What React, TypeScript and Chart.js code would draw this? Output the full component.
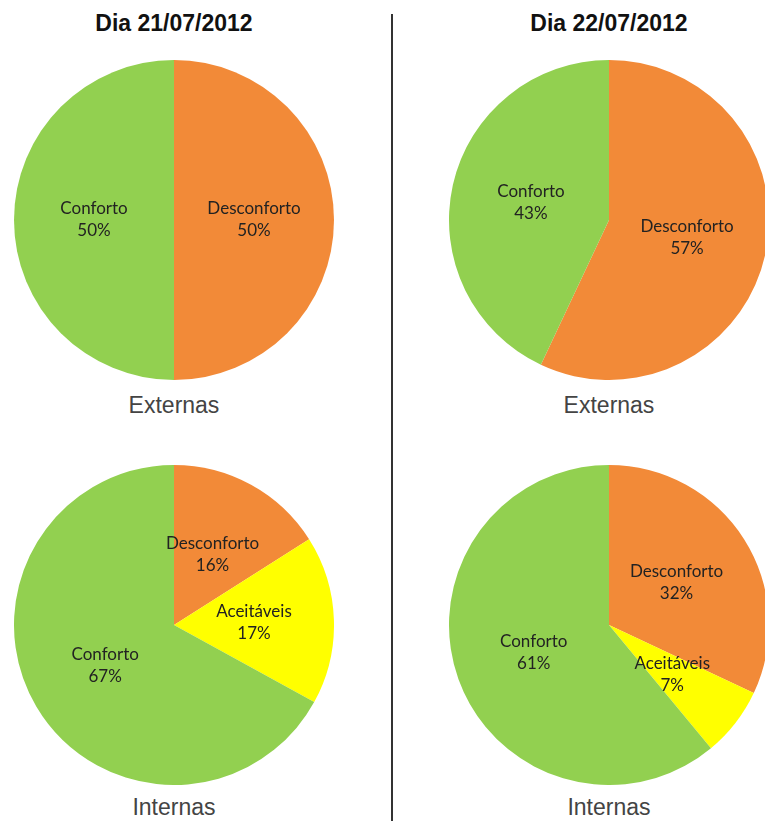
import React, { useEffect, useRef } from "react";
import { Chart, registerables } from "chart.js";

Chart.register(...registerables);

const titles = ["Dia 21/07/2012", "Dia 22/07/2012"];
const groupLabels = ["Externas", "Internas"];

const ext21Labels = ["Desconforto", "Conforto"];
const ext21Values = [50, 50];
const ext22Labels = ["Desconforto", "Conforto"];
const ext22Values = [57, 43];
const int21Labels = ["Desconforto", "Aceitáveis", "Conforto"];
const int21Values = [16, 17, 67];
const int22Labels = ["Desconforto", "Aceitáveis", "Conforto"];
const int22Values = [32, 7, 61];

const colorMap: Record<string, string> = {
  Desconforto: "#F28A38",
  "Aceitáveis": "#FFFF00",
  Conforto: "#92D050",
};

const labelPlugin = {
  id: "sliceLabels",
  afterDatasetsDraw(chart: any) {
    const ctx = chart.ctx;
    const meta = chart.getDatasetMeta(0);
    const labels = chart.data.labels as string[];
    const values = chart.data.datasets[0].data as number[];
    ctx.save();
    ctx.font = "17px Lato";
    ctx.fillStyle = "#222";
    ctx.textAlign = "center";
    ctx.textBaseline = "middle";
    meta.data.forEach((arc: any, i: number) => {
      const p = arc.tooltipPosition();
      ctx.fillText(labels[i], p.x, p.y - 11);
      ctx.fillText(values[i] + "%", p.x, p.y + 11);
    });
    ctx.restore();
  },
};

function Pie({ labels, values, cx, cy }: { labels: string[]; values: number[]; cx: number; cy: number }) {
  const ref = useRef<HTMLCanvasElement>(null);
  useEffect(() => {
    const chart = new Chart(ref.current!, {
      type: "pie",
      data: {
        labels,
        datasets: [
          {
            data: values,
            backgroundColor: labels.map((l) => colorMap[l]),
            borderWidth: 0,
          },
        ],
      },
      options: {
        responsive: false,
        animation: false,
        layout: { padding: 0 },
        plugins: { legend: { display: false }, tooltip: { enabled: false } },
      },
      plugins: [labelPlugin],
    });
    return () => chart.destroy();
  }, []);
  return (
    <canvas
      ref={ref}
      width={320}
      height={320}
      style={{ position: "absolute", left: cx - 160, top: cy - 160, width: 320, height: 320 }}
    />
  );
}

const textStyle: React.CSSProperties = {
  position: "absolute",
  width: 320,
  textAlign: "center",
  fontFamily: "'Liberation Sans', Arial, sans-serif",
  whiteSpace: "nowrap",
};

export default function App() {
  const cols = [174, 609];
  return (
    <div
      style={{
        position: "absolute",
        left: 0,
        top: 0,
        width: 765,
        height: 821,
        overflow: "hidden",
        background: "#fff",
      }}
    >
      {titles.map((t, i) => (
        <div
          key={t}
          style={{ ...textStyle, left: cols[i] - 160, top: 10, fontSize: 23, fontWeight: "bold", color: "#111" }}
        >
          {t}
        </div>
      ))}
      {cols.map((c, i) => (
        <React.Fragment key={i}>
          <div style={{ ...textStyle, left: c - 160, top: 392, fontSize: 23, color: "#444" }}>{groupLabels[0]}</div>
          <div style={{ ...textStyle, left: c - 160, top: 794, fontSize: 23, color: "#444" }}>{groupLabels[1]}</div>
        </React.Fragment>
      ))}
      <div style={{ position: "absolute", left: 391, top: 14, width: 2, height: 807, background: "#333" }} />
      <Pie labels={ext21Labels} values={ext21Values} cx={174} cy={220} />
      <Pie labels={ext22Labels} values={ext22Values} cx={609} cy={220} />
      <Pie labels={int21Labels} values={int21Values} cx={174} cy={625} />
      <Pie labels={int22Labels} values={int22Values} cx={609} cy={625} />
    </div>
  );
}
